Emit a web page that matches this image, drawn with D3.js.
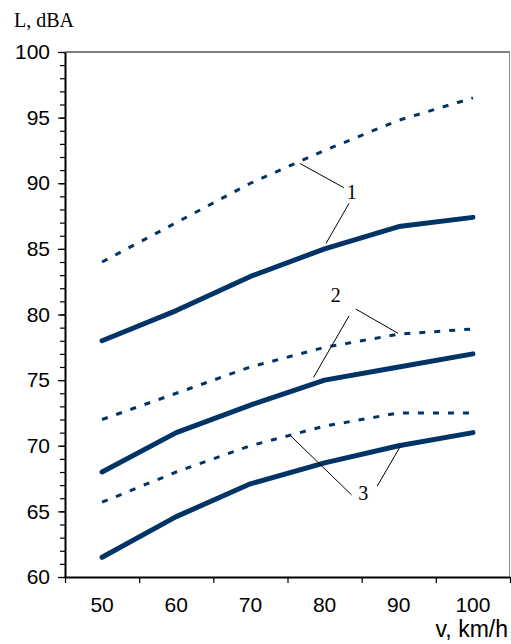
<!DOCTYPE html>
<html>
<head>
<meta charset="utf-8">
<script src="https://cdn.jsdelivr.net/npm/d3@7/dist/d3.min.js"></script>
<style>
  body { margin: 0; background: #fff; }
  svg { display: block; }
</style>
</head>
<body>
<div id="chart"></div>
<script>
// speeds, km/h
const speeds = [50, 60, 70, 80, 90, 100];
// noise level, dBA (solid and dashed curves for cases 1-3)
const solid1 = [78, 80.3, 82.9, 85, 86.7, 87.4];
const dash1 = [84, 87, 90, 92.5, 94.8, 96.5];
const solid2 = [68, 71, 73.1, 75, 76, 77];
const dash2 = [72, 74, 76, 77.5, 78.5, 78.9];
const solid3 = [61.5, 64.6, 67.1, 68.7, 70, 71];
const dash3 = [65.7, 68, 70, 71.5, 72.5, 72.5];
const yTicks = [60, 65, 70, 75, 80, 85, 90, 95, 100];

// curve labels: [text, label x (km/h), label y (dBA), leader lines as [x1,y1,x2,y2]]
const labels = [
  ["1", 83.65, 89.36, [[82.6, 89.66, 76.7, 91.5], [83.3, 88.47, 80.2, 85.42]]],
  ["2", 81.5, 81.49, [[83.3, 79.9, 78.5, 75.2], [84.2, 80.42, 89.9, 78.57]]],
  ["3", 85.2, 66.42, [[83.65, 66.25, 75.4, 70.77], [87.1, 66.93, 90.26, 70.0]]]
];

const width = 511, height = 644;
const margin = { top: 52, right: 1, bottom: 67, left: 65 };
const navy = "#003366";

const svg = d3.select("#chart").append("svg")
  .attr("width", width)
  .attr("height", height);

const x = d3.scaleBand()
  .domain(speeds)
  .range([margin.left, width - margin.right])
  .padding(0);

const xEdge = d3.scaleLinear()
  .domain([0, speeds.length])
  .range([margin.left, width - margin.right]);

// continuous speed -> px through band centres, for annotations
const xv = d3.scaleLinear()
  .domain([50, 100])
  .range([x(50) + x.bandwidth() / 2, x(100) + x.bandwidth() / 2]);

const y = d3.scaleLinear()
  .domain([60, 100])
  .range([height - margin.bottom, margin.top]);

// frame top / right
svg.append("line")
  .attr("x1", margin.left).attr("x2", width - margin.right)
  .attr("y1", y(100)).attr("y2", y(100))
  .attr("stroke", "#000").attr("stroke-width", 1);
svg.append("line")
  .attr("x1", width - margin.right - 0.5).attr("x2", width - margin.right - 0.5)
  .attr("y1", y(100)).attr("y2", y(60))
  .attr("stroke", "#888").attr("stroke-width", 1);

// minor y ticks
svg.append("g")
  .attr("transform", `translate(${margin.left},0)`)
  .call(d3.axisLeft(y).tickValues(d3.range(60, 101, 1)).tickSize(5).tickFormat(""))
  .call(g => g.select(".domain").remove())
  .call(g => g.selectAll(".tick line").attr("stroke-width", 1.2));

// major y axis
svg.append("g")
  .attr("transform", `translate(${margin.left},0)`)
  .call(d3.axisLeft(y).tickValues(yTicks).tickSize(7).tickPadding(8).tickSizeOuter(0))
  .call(g => g.select(".domain").attr("stroke-width", 2))
  .call(g => g.selectAll(".tick line").attr("stroke-width", 1.2))
  .call(g => g.selectAll(".tick text")
    .attr("font-family", "Liberation Sans, Arial, sans-serif")
    .attr("font-size", 21)
    .attr("fill", "#000"));

// x axis: tick marks at category edges
svg.append("g")
  .attr("transform", `translate(0,${y(60)})`)
  .call(d3.axisBottom(xEdge).tickValues(d3.range(0, speeds.length + 1)).tickSize(6).tickFormat("").tickSizeOuter(0))
  .call(g => g.select(".domain").attr("stroke-width", 2))
  .call(g => g.selectAll(".tick line").attr("stroke-width", 1.2));

// x labels centred in categories
svg.append("g")
  .attr("transform", `translate(0,${y(60)})`)
  .call(d3.axisBottom(x).tickSize(0).tickPadding(20))
  .call(g => g.select(".domain").remove())
  .call(g => g.selectAll(".tick text")
    .attr("font-family", "Liberation Sans, Arial, sans-serif")
    .attr("font-size", 21)
    .attr("fill", "#000"));

// axis titles
svg.append("text")
  .attr("x", 14).attr("y", 27)
  .attr("font-family", "Liberation Serif, Times New Roman, serif")
  .attr("font-size", 20)
  .text("L, dBA");

svg.append("text")
  .attr("x", 508).attr("y", 637)
  .attr("text-anchor", "end")
  .attr("font-family", "Liberation Sans, Arial, sans-serif")
  .attr("font-size", 23)
  .text("v, km/h");

const line = d3.line()
  .x((d, i) => x(speeds[i]) + x.bandwidth() / 2)
  .y(d => y(d));

const series = [
  { v: dash1, dashed: true }, { v: solid1, dashed: false },
  { v: dash2, dashed: true }, { v: solid2, dashed: false },
  { v: dash3, dashed: true }, { v: solid3, dashed: false }
];

svg.append("g").selectAll("path")
  .data(series)
  .join("path")
  .attr("d", d => line(d.v))
  .attr("fill", "none")
  .attr("stroke", navy)
  .attr("stroke-width", d => d.dashed ? 3 : 5)
  .attr("stroke-linecap", d => d.dashed ? "butt" : "round")
  .attr("stroke-linejoin", "round")
  .attr("stroke-dasharray", d => d.dashed ? "6,9" : null);

// curve labels with leader lines
const ann = svg.append("g");
labels.forEach(([t, lx, ly, leaders]) => {
  ann.selectAll(null)
    .data(leaders)
    .join("line")
    .attr("x1", d => xv(d[0])).attr("y1", d => y(d[1]))
    .attr("x2", d => xv(d[2])).attr("y2", d => y(d[3]))
    .attr("stroke", "#000").attr("stroke-width", 1);
  ann.append("text")
    .attr("x", xv(lx)).attr("y", y(ly))
    .attr("text-anchor", "middle")
    .attr("dominant-baseline", "central")
    .attr("font-family", "Liberation Serif, Times New Roman, serif")
    .attr("font-size", 20)
    .text(t);
});
</script>
</body>
</html>
